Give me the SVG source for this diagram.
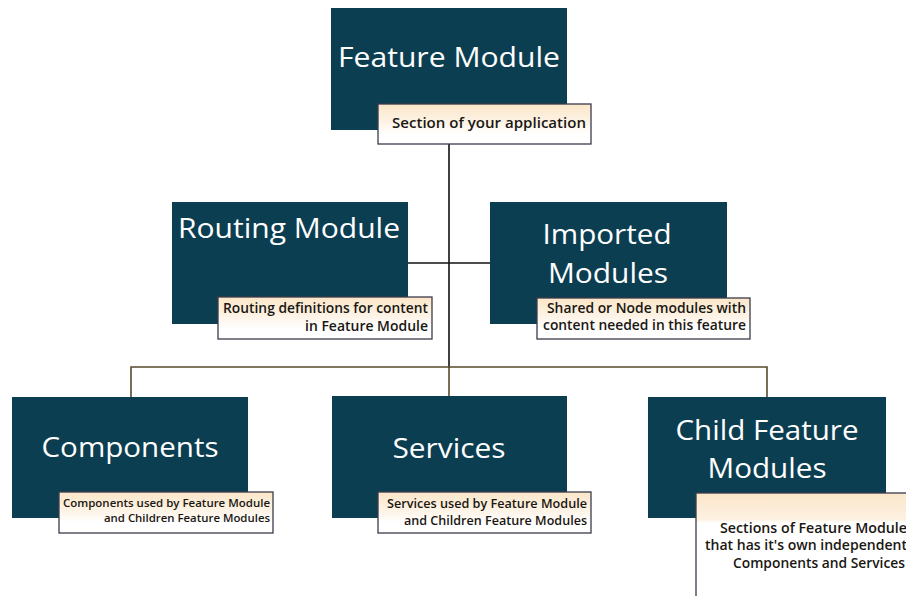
<svg xmlns="http://www.w3.org/2000/svg" width="906" height="596" viewBox="0 0 906 596">
<defs>
<linearGradient id="lg" x1="0" y1="0" x2="0" y2="1">
<stop offset="0" stop-color="#fbe6c8"/>
<stop offset="0.45" stop-color="#fdf3e6"/>
<stop offset="0.75" stop-color="#ffffff"/>
</linearGradient>
<linearGradient id="lg2" x1="0" y1="0" x2="0" y2="1">
<stop offset="0" stop-color="#fbe6c8"/>
<stop offset="0.22" stop-color="#fdf1e2"/>
<stop offset="0.25" stop-color="#ffffff"/>
</linearGradient>
<style>
.box{fill:#0c3e52;}
.lbl{fill:url(#lg);stroke:#3b3b4a;stroke-width:1.3;}
.t{font-family:"Open Sans","Noto Sans",sans-serif;fill:#ffffff;font-size:28px;text-anchor:middle;}
.s{font-family:"Open Sans","Noto Sans",sans-serif;fill:#1a1712;font-weight:600;text-anchor:end;}
.c{fill:none;stroke:#111111;stroke-width:1.6;}
.c2{fill:none;stroke:#5a4a2c;stroke-width:1.6;}
</style>
</defs>
<rect width="906" height="596" fill="#ffffff"/>
<g id="connectors">
<line class="c" x1="449" y1="144" x2="449" y2="368"/>
<line class="c" x1="408" y1="263" x2="490" y2="263"/>
<polyline class="c2" points="131,397 131,367 767,367 767,397"/>
<line class="c2" x1="449" y1="367" x2="449" y2="397"/>
</g>
<g id="feature-module">
<rect class="box" x="331" y="8" width="236" height="122"/>
<text class="t" x="449" y="67" textLength="222" lengthAdjust="spacingAndGlyphs">Feature Module</text>
<rect class="lbl" x="378" y="104" width="213" height="40"/>
<text class="s" x="586" y="128" font-size="14" textLength="194" lengthAdjust="spacingAndGlyphs">Section of your application</text>
</g>
<g id="routing-module">
<rect class="box" x="172" y="202" width="236" height="122"/>
<text class="t" x="289" y="238" textLength="222" lengthAdjust="spacingAndGlyphs">Routing Module</text>
<rect class="lbl" x="218" y="297" width="214" height="42"/>
<text class="s" x="428" y="313" font-size="13.5" textLength="205" lengthAdjust="spacingAndGlyphs">Routing definitions for content</text>
<text class="s" x="428" y="331" font-size="13.5" textLength="123" lengthAdjust="spacingAndGlyphs">in Feature Module</text>
</g>
<g id="imported-modules">
<rect class="box" x="490" y="202" width="237" height="122"/>
<text class="t" x="607" y="244" textLength="129" lengthAdjust="spacingAndGlyphs">Imported</text>
<text class="t" x="608" y="283" textLength="120" lengthAdjust="spacingAndGlyphs">Modules</text>
<rect class="lbl" x="537" y="298" width="213" height="41"/>
<text class="s" x="746" y="313" font-size="13.5" textLength="199" lengthAdjust="spacingAndGlyphs">Shared or Node modules with</text>
<text class="s" x="746" y="330" font-size="13.5" textLength="203" lengthAdjust="spacingAndGlyphs">content needed in this feature</text>
</g>
<g id="components">
<rect class="box" x="12" y="397" width="236" height="121"/>
<text class="t" x="130" y="457" textLength="177" lengthAdjust="spacingAndGlyphs">Components</text>
<rect class="lbl" x="59" y="492" width="214" height="41"/>
<text class="s" x="270" y="507" font-size="11.5" textLength="207" lengthAdjust="spacingAndGlyphs">Components used by Feature Module</text>
<text class="s" x="270" y="522" font-size="11.5" textLength="166" lengthAdjust="spacingAndGlyphs">and Children Feature Modules</text>
</g>
<g id="services">
<rect class="box" x="332" y="396" width="235" height="122"/>
<text class="t" x="449" y="458" textLength="113" lengthAdjust="spacingAndGlyphs">Services</text>
<rect class="lbl" x="378" y="492" width="213" height="41"/>
<text class="s" x="587" y="508" font-size="12.5" textLength="200" lengthAdjust="spacingAndGlyphs">Services used by Feature Module</text>
<text class="s" x="587" y="525" font-size="12.5" textLength="183" lengthAdjust="spacingAndGlyphs">and Children Feature Modules</text>
</g>
<g id="child-feature-modules">
<rect class="box" x="648" y="397" width="238" height="121"/>
<text class="t" x="767" y="440" textLength="183" lengthAdjust="spacingAndGlyphs">Child Feature</text>
<text class="t" x="767" y="478" textLength="119" lengthAdjust="spacingAndGlyphs">Modules</text>
<rect x="696" y="493" width="230" height="120" fill="url(#lg2)" stroke="#3b3b4a" stroke-width="1.3"/>
<text class="s" x="907" y="533" font-size="13.5" textLength="187" lengthAdjust="spacingAndGlyphs">Sections of Feature Module</text>
<text class="s" x="907" y="550" font-size="13.5" textLength="202" lengthAdjust="spacingAndGlyphs">that has it's own independent</text>
<text class="s" x="905" y="568" font-size="13.5" textLength="172" lengthAdjust="spacingAndGlyphs">Components and Services</text>
</g>
</svg>
